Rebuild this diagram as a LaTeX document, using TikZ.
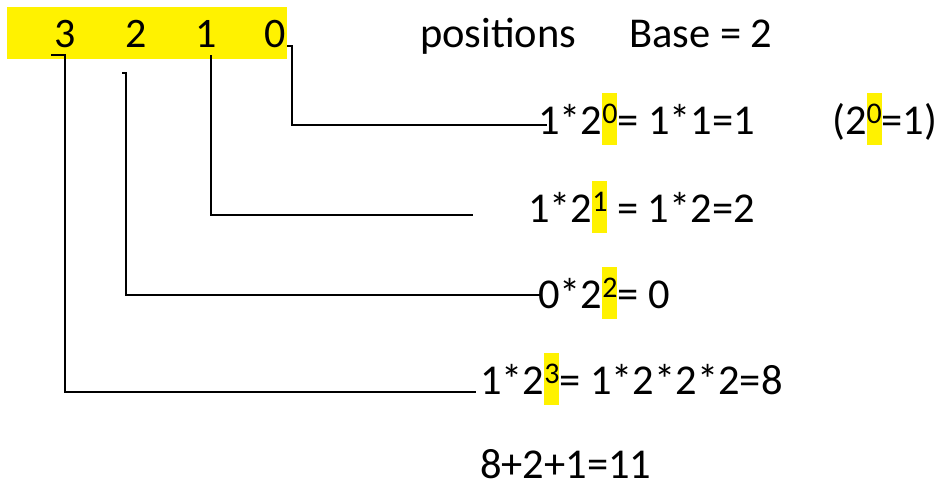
\documentclass[tikz,border=0pt]{standalone}
\usepackage{fontspec}
\setmainfont{Carlito}
\newcommand{\hsup}[1]{{\setlength{\fboxsep}{0pt}\colorbox{yellow}{\rule[-11pt]{0pt}{52pt}\makebox[15pt]{\raisebox{11pt}{\fontsize{30}{30}\selectfont #1}}}}}
\tikzset{
  txt/.style={anchor=base west, inner sep=0pt, font=\fontsize{42.5}{50}\selectfont},
  dig/.style={anchor=base, inner sep=0pt, font=\fontsize{42}{50}\selectfont},
  conn/.style={draw=black, line width=1.8pt}
}
\begin{document}
\begin{tikzpicture}[x=1pt,y=-1pt]
\useasboundingbox (0,0) rectangle (936,485);
\fill[yellow] (7,7) rectangle (287,59);
\node[dig] (d3) at (65,47) {3};
\node[dig] (d2) at (136,47) {2};
\node[dig] (d1) at (206,47) {1};
\node[dig] (d0) at (275,47) {0};
\node[txt] (pos) at (420,47) {positions};
\node[txt] (base) at (629,47) {Base = 2};
\node[txt] (e0) at (538,134) {1*2\hsup{0}= 1*1=1};
\node[txt] (n0) at (832,134) {(2\hsup{0}=1)};
\node[txt] (e1) at (528,222) {1*2\hsup{1} = 1*2=2};
\node[txt] (e2) at (538,308) {0*2\hsup{2}= 0};
\node[txt] (e3) at (480,394) {1*2\hsup{3}= 1*2*2*2=8};
\node[txt] (sum) at (480,478) {8+2+1=11};
\coordinate (s0) at (287,46);
\coordinate (k0) at (292,46);
\coordinate (f0) at (547,125);
\coordinate (s1) at (211,55);
\coordinate (f1) at (473,215);
\coordinate (s2) at (122,73);
\coordinate (k2) at (126,73);
\coordinate (f2) at (540,295);
\coordinate (s3) at (51,55);
\coordinate (k3) at (65,55);
\coordinate (f3) at (476,392);
\draw[conn] (s0) -- (k0) |- (f0);
\draw[conn] (s1) |- (f1);
\draw[conn] (s2) -- (k2) |- (f2);
\draw[conn] (s3) -- (k3) |- (f3);
\end{tikzpicture}
\end{document}
